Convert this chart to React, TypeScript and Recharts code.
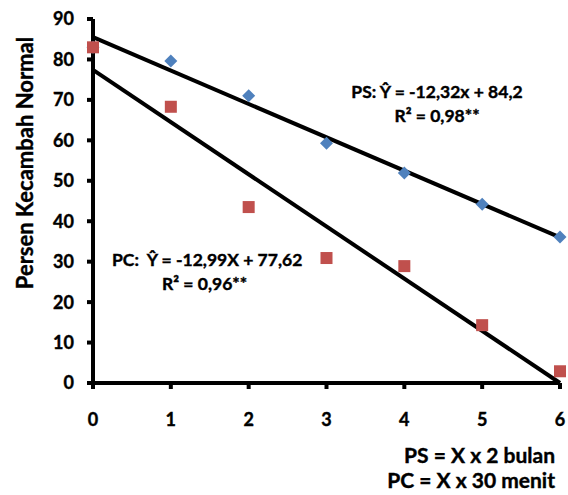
import React from "react";
import { ComposedChart, Scatter, Line, XAxis, YAxis } from "recharts";

const xValues = [0, 1, 2, 3, 4, 5, 6];
const psValues = [83, 79.6, 71, 59.3, 51.9, 44.2, 36.1];
const pcValues = [83, 68.3, 43.5, 30.9, 28.9, 14.3, 2.9];
const trendX = [0, 6];
const psTrendY = [85.5, 36.0];
const pcTrendY = [77.4, 0];
const xTicks = [0, 1, 2, 3, 4, 5, 6];
const yTicks = [0, 10, 20, 30, 40, 50, 60, 70, 80, 90];

const psData = xValues.map((x, i) => ({ x, y: psValues[i] }));
const pcData = xValues.map((x, i) => ({ x, y: pcValues[i] }));
const psTrend = trendX.map((x, i) => ({ x, y: psTrendY[i] }));
const pcTrend = trendX.map((x, i) => ({ x, y: pcTrendY[i] }));

const FONT = "Lato, 'Open Sans', sans-serif";

const Diamond = (props: any) => {
  const { cx, cy } = props;
  const r = 6.5;
  return (
    <polygon
      points={`${cx},${cy - r} ${cx + r},${cy} ${cx},${cy + r} ${cx - r},${cy}`}
      fill="#4F81BD"
    />
  );
};

const Square = (props: any) => {
  const { cx, cy } = props;
  const s = 12;
  return <rect x={cx - s / 2} y={cy - s / 2} width={s} height={s} fill="#C0504D" />;
};

const tickStyle = { fill: "#000", fontSize: 18, fontWeight: 700, fontFamily: FONT, stroke: "#000", strokeWidth: 0.4 };

export default function App() {
  return (
    <div style={{ position: "absolute", left: 0, top: 0, width: 568, height: 495, background: "#fff" }}>
      <ComposedChart
        width={568}
        height={495}
        margin={{ top: 19, right: 8, left: 0, bottom: 0 }}
      >
        <XAxis
          type="number"
          dataKey="x"
          domain={[0, 6]}
          ticks={xTicks}
          height={112}
          stroke="#000"
          axisLine={{ stroke: "#000", strokeWidth: 4 }}
          tickLine={{ stroke: "#000", strokeWidth: 4 }}
          tickSize={6}
          tickMargin={24}
          tick={tickStyle}
          allowDuplicatedCategory={false}
        />
        <YAxis
          type="number"
          domain={[0, 90]}
          ticks={yTicks}
          width={93}
          stroke="#000"
          axisLine={{ stroke: "#000", strokeWidth: 4 }}
          tickLine={{ stroke: "#000", strokeWidth: 4 }}
          tickSize={6}
          tickMargin={13}
          tick={tickStyle}
        />
        <Scatter data={psData} dataKey="y" shape={<Diamond />} isAnimationActive={false} />
        <Line data={psTrend} dataKey="y" stroke="#000" strokeWidth={4} dot={false} activeDot={false} isAnimationActive={false} />
        <Line data={pcTrend} dataKey="y" stroke="#000" strokeWidth={4} dot={false} activeDot={false} isAnimationActive={false} />
        <Scatter data={pcData} dataKey="y" shape={<Square />} isAnimationActive={false} />
      </ComposedChart>
      <svg
        width={568}
        height={495}
        style={{ position: "absolute", left: 0, top: 0, pointerEvents: "none", whiteSpace: "pre" }}
        fontFamily={FONT}
        fontWeight={700}
        fill="#000"
        stroke="#000"
        strokeWidth={0.4}
      >
        <text x={24} y={163} fontSize={22} textAnchor="middle" dominantBaseline="central" transform="rotate(-90 24 163)">
          Persen Kecambah Normal
        </text>
        <text x={437} y={98} fontSize={17.5} textAnchor="middle">PS: Ŷ = -12,32x + 84,2</text>
        <text x={437} y={122} fontSize={17.5} textAnchor="middle">R² = 0,98**</text>
        <text x={112} y={266} fontSize={17.5} textAnchor="start" xmlSpace="preserve">{"PC:  Ŷ = -12,99X + 77,62"}</text>
        <text x={162} y={290} fontSize={17.5} textAnchor="start">R² = 0,96**</text>
        <text x={555} y={463} fontSize={21} textAnchor="end">PS = X x 2 bulan</text>
        <text x={555} y={488} fontSize={21} textAnchor="end">PC = X x 30 menit</text>
      </svg>
    </div>
  );
}
